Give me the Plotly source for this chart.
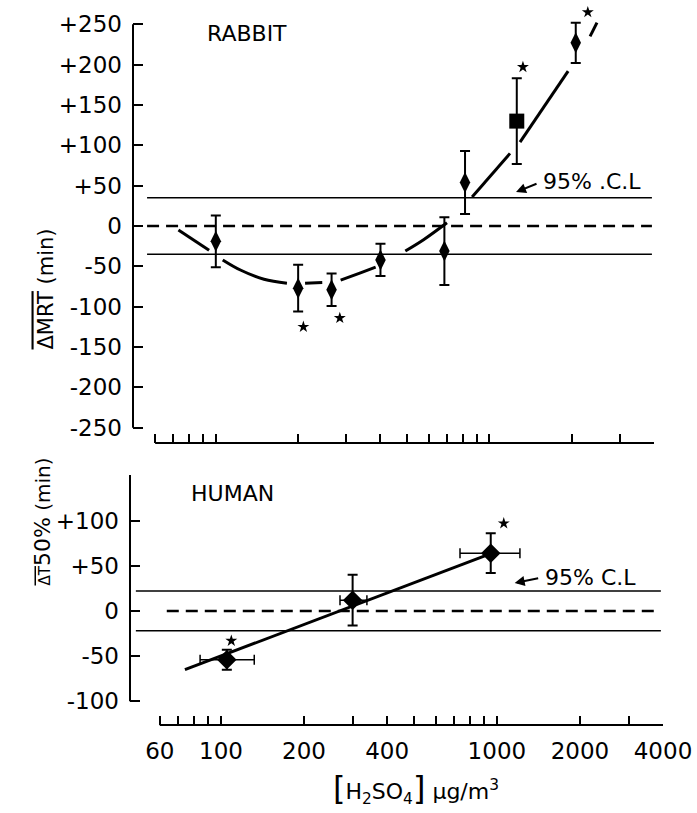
import math
import plotly.graph_objects as go

# ---------------- data ----------------
x_tickvals = [60, 70, 80, 90, 100, 200, 300, 400, 500, 600, 700, 800, 900, 1000, 2000, 3000, 4000]
x_ticklabels = ["60", "", "", "", "100", "200", "", "400", "", "", "", "", "", "1000", "2000", "", "4000"]

rab_yticks = [250, 200, 150, 100, 50, 0, -50, -100, -150, -200, -250]
rab_yticklabels = ["+250", "+200", "+150", "+100", "+50", "0", "-50", "-100", "-150", "-200", "-250"]
hum_yticks = [100, 50, 0, -50, -100]
hum_yticklabels = ["+100", "+50", "0", "-50", "-100"]

# Rabbit: delta MRT (min) vs H2SO4 concentration
rab_x = [100, 200, 265, 400, 685, 815, 1260, 2070]
rab_y = [-19, -77, -79, -42, -31, 54, 130, 227]
rab_err = [32, 29, 20, 20, 42, 39, 53, 25]
rab_cl = 35

# fitted curve (broken around the points)
rab_fit_x = [73, 94.5, None, 106, 123, 150, 182, None, 212, 245, None, 286, 338, 384,
             None, 493, 575, 700, None, 865, 1190, None, 1295, 1941, None, 2335, 2475]
rab_fit_y = [-5, -30, None, -42, -54.5, -66, -71, None, -71, -70, None, -67, -58, -51,
             None, -31, -17, 4, None, 36, 90, None, 104, 192, None, 235, 252]

rab_star_x = [209, 284, 1327, 2291]
rab_star_y = [-125, -114, 197, 265]

# Human: delta T50% (min)
hum_x = [105, 300, 950]
hum_y = [-54, 12, 64]
hum_yerr = [11, 28, 22]
hum_xerr_plus = [27, 38, 262]
hum_xerr_minus = [21, 30, 215]
hum_cl = 22
hum_fit_x = [74, 960]
hum_fit_y = [-65, 64]
hum_star_x = [109, 1059]
hum_star_y = [-33, 97]

# ---------------- figure ----------------
W, H = 697, 813
FONT = "DejaVu Sans"
fig = go.Figure()

# rabbit fit
fig.add_trace(go.Scatter(x=rab_fit_x, y=rab_fit_y, mode="lines", xaxis="x", yaxis="y",
                         line=dict(color="black", width=3, shape="spline"),
                         connectgaps=False, showlegend=False, hoverinfo="skip"))
rab_symbols = ["diamond-tall"] * len(rab_x)
rab_symbols[6] = "square"
fig.add_trace(go.Scatter(x=rab_x, y=rab_y, mode="markers", xaxis="x", yaxis="y",
                         marker=dict(color="black", size=15, symbol=rab_symbols),
                         error_y=dict(type="data", array=rab_err, color="black",
                                      thickness=2, width=5),
                         showlegend=False))
fig.add_trace(go.Scatter(x=rab_star_x, y=rab_star_y, mode="markers", xaxis="x", yaxis="y",
                         marker=dict(color="black", size=9, symbol="star"),
                         cliponaxis=False, showlegend=False))

# human
fig.add_trace(go.Scatter(x=hum_fit_x, y=hum_fit_y, mode="lines", xaxis="x2", yaxis="y2",
                         line=dict(color="black", width=3), showlegend=False))
fig.add_trace(go.Scatter(x=hum_x, y=hum_y, mode="markers", xaxis="x2", yaxis="y2",
                         marker=dict(color="black", size=15, symbol="diamond"),
                         error_y=dict(type="data", array=hum_yerr, color="black",
                                      thickness=2, width=5),
                         error_x=dict(type="data", array=hum_xerr_plus,
                                      arrayminus=hum_xerr_minus, color="black",
                                      thickness=1.5, width=5),
                         showlegend=False))
fig.add_trace(go.Scatter(x=hum_star_x, y=hum_star_y, mode="markers", xaxis="x2", yaxis="y2",
                         marker=dict(color="black", size=9, symbol="star"),
                         cliponaxis=False, showlegend=False))

# axes
def px_x(p):
    return p / W

def px_y(p):
    return 1 - p / H

axis_common = dict(type="log", tickvals=x_tickvals, ticks="inside", ticklen=9,
                   tickwidth=1.5, tickcolor="black", showgrid=False, zeroline=False,
                   showline=False, automargin=False)
yaxis_common = dict(ticks="inside", ticklen=10, tickwidth=1.5, tickcolor="black",
                    showgrid=False, zeroline=False, showline=False, automargin=False,
                    tickfont=dict(family=FONT, size=23, color="black"),
                    ticklabelstandoff=10)

fig.update_layout(
    width=W, height=H, margin=dict(l=0, r=0, t=0, b=0, autoexpand=False),
    paper_bgcolor="white", plot_bgcolor="white",
    font=dict(family=FONT, color="black"),
    xaxis=dict(domain=[px_x(133), px_x(654)], range=[math.log10(49.8), math.log10(4000)],
               anchor="y", showticklabels=False, **axis_common),
    yaxis=dict(domain=[px_y(443), px_y(10)], range=[-268.9, 267.7], anchor="x",
               tickvals=rab_yticks, ticktext=rab_yticklabels, **yaxis_common),
    xaxis2=dict(domain=[px_x(130), px_x(663)], range=[math.log10(46.8), math.log10(4000)],
                anchor="y2", ticktext=x_ticklabels, showticklabels=True,
                tickfont=dict(family=FONT, size=23, color="black"),
                ticklabelstandoff=10, **axis_common),
    yaxis2=dict(domain=[px_y(725), px_y(475)], range=[-126.2, 150.5], anchor="x2",
                tickvals=hum_yticks, ticktext=hum_yticklabels, **yaxis_common),
)

shapes = []
# axis lines
shapes.append(dict(type="line", xref="x domain", yref="y", x0=0, x1=0, y0=-250, y1=250,
                   line=dict(color="black", width=2)))
shapes.append(dict(type="line", xref="x", yref="y domain", x0=60, x1=4000, y0=0, y1=0,
                   line=dict(color="black", width=2)))
shapes.append(dict(type="line", xref="x2 domain", yref="y2 domain", x0=0, x1=0, y0=0.095, y1=1,
                   line=dict(color="black", width=2)))
shapes.append(dict(type="line", xref="x2", yref="y2 domain", x0=60, x1=4000, y0=0, y1=0,
                   line=dict(color="black", width=2)))
# rabbit reference lines
for yv in (rab_cl, -rab_cl):
    shapes.append(dict(type="line", xref="x domain", yref="y", x0=0.027, x1=0.996, y0=yv, y1=yv,
                       line=dict(color="black", width=1.5)))
shapes.append(dict(type="line", xref="x domain", yref="y", x0=0.027, x1=0.996, y0=0, y1=0,
                   line=dict(color="black", width=2.5, dash="12px,7px")))
# human reference lines
for yv in (hum_cl, -hum_cl):
    shapes.append(dict(type="line", xref="x2 domain", yref="y2", x0=0.011, x1=0.996, y0=yv, y1=yv,
                       line=dict(color="black", width=1.5)))
shapes.append(dict(type="line", xref="x2 domain", yref="y2", x0=0.069, x1=0.994, y0=0, y1=0,
                   line=dict(color="black", width=2.5, dash="12px,7px")))
fig.update_layout(shapes=shapes)

ann = []
ann.append(dict(text="RABBIT", xref="x", yref="y", x=math.log10(130), y=239, showarrow=False,
                font=dict(size=22)))
ann.append(dict(text="HUMAN", xref="x2", yref="y2", x=math.log10(110), y=130, showarrow=False,
                font=dict(size=22)))
# 95% C.L labels with arrows
ann.append(dict(text="95% .C.L", xref="x", yref="y", x=math.log10(2370), y=55, showarrow=False,
                font=dict(size=22)))
ann.append(dict(text="", xref="x", yref="y", x=math.log10(1252), y=42, ax=22, ay=-9,
                showarrow=True, arrowhead=2, arrowsize=1, arrowwidth=2, arrowcolor="black"))
ann.append(dict(text="95% C.L", xref="x2", yref="y2", x=math.log10(2190), y=37, showarrow=False,
                font=dict(size=22)))
ann.append(dict(text="", xref="x2", yref="y2", x=math.log10(1160), y=31, ax=25, ay=-5,
                showarrow=True, arrowhead=2, arrowsize=1, arrowwidth=2, arrowcolor="black"))
# y-axis titles
ann.append(dict(text='<span style="text-decoration:overline">ΔMRT</span> (min)',
                xref="paper", yref="paper", x=px_x(31), y=px_y(227), textangle=-90,
                showarrow=False, font=dict(size=21)))
ann.append(dict(text='<span style="font-size:15px;text-decoration:overline">ΔT</span>'
                     '<span style="font-size:22px">50%</span> (min)',
                xref="paper", yref="paper", x=px_x(27), y=px_y(588), textangle=-90,
                showarrow=False, font=dict(size=20)))
# x-axis title
ann.append(dict(text='<span style="font-size:32px">[</span>H<sub>2</sub>SO<sub>4</sub>'
                     '<span style="font-size:32px">]</span> μg/m<sup>3</sup>',
                xref="paper", yref="paper", x=px_x(416), y=px_y(810), yanchor="bottom",
                showarrow=False, font=dict(size=22)))
fig.update_layout(annotations=ann)

fig.write_html("out.html", config={"displayModeBar": False},
               post_script="document.body.style.margin='0';")
